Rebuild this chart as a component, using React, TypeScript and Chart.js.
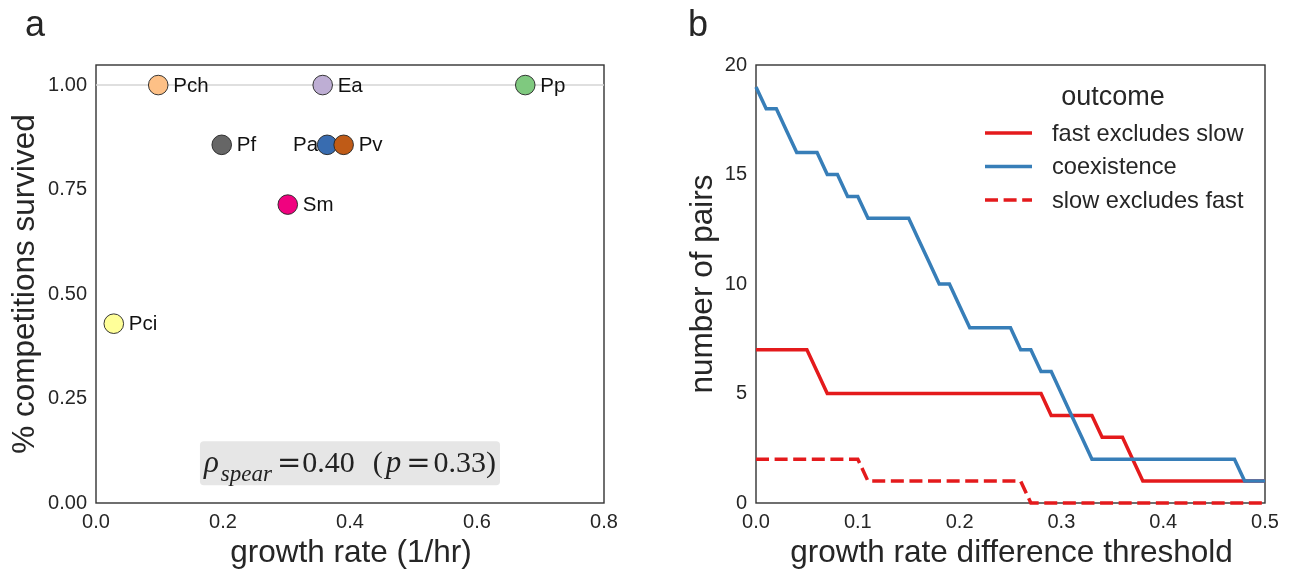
import React, { useEffect, useRef } from 'react';
import { Chart, registerables } from 'chart.js';

Chart.register(...registerables);

// ---------- Panel a data ----------
const strains = ['Pch', 'Ea', 'Pp', 'Pf', 'Pa', 'Pv', 'Sm', 'Pci'];
const growthRate = [0.098, 0.357, 0.676, 0.198, 0.364, 0.39, 0.302, 0.028];
const survived = [1.0, 1.0, 1.0, 0.857, 0.857, 0.857, 0.714, 0.429];
const strainColors = ['#fdc086', '#beaed4', '#7fc97f', '#666666', '#386cb0', '#bf5b17', '#f0027f', '#ffff99'];
const labelSide = ['right', 'right', 'right', 'right', 'left', 'right', 'right', 'right'];
const aXTicks = [0, 0.2, 0.4, 0.6, 0.8];
const aYTicks = [0, 0.25, 0.5, 0.75, 1.0];
const refLineY = 1.0;
const annotationText = { rho: '0.40', p: '0.33' };

// ---------- Panel b data ----------
const thresholds = [
  0.0, 0.01, 0.02, 0.03, 0.04, 0.05, 0.06, 0.07, 0.08, 0.09,
  0.1, 0.11, 0.12, 0.13, 0.14, 0.15, 0.16, 0.17, 0.18, 0.19,
  0.2, 0.21, 0.22, 0.23, 0.24, 0.25, 0.26, 0.27, 0.28, 0.29,
  0.3, 0.31, 0.32, 0.33, 0.34, 0.35, 0.36, 0.37, 0.38, 0.39,
  0.4, 0.41, 0.42, 0.43, 0.44, 0.45, 0.46, 0.47, 0.48, 0.49, 0.5,
];
const fastExcludesSlow = [
  7, 7, 7, 7, 7, 7, 6, 5, 5, 5,
  5, 5, 5, 5, 5, 5, 5, 5, 5, 5,
  5, 5, 5, 5, 5, 5, 5, 5, 5, 4,
  4, 4, 4, 4, 3, 3, 3, 2, 1, 1,
  1, 1, 1, 1, 1, 1, 1, 1, 1, 1, 1,
];
const coexistence = [
  19, 18, 18, 17, 16, 16, 16, 15, 15, 14,
  14, 13, 13, 13, 13, 13, 12, 11, 10, 10,
  9, 8, 8, 8, 8, 8, 7, 7, 6, 6,
  5, 4, 3, 2, 2, 2, 2, 2, 2, 2,
  2, 2, 2, 2, 2, 2, 2, 2, 1, 1, 1,
];
const slowExcludesFast = [
  2, 2, 2, 2, 2, 2, 2, 2, 2, 2,
  2, 1, 1, 1, 1, 1, 1, 1, 1, 1,
  1, 1, 1, 1, 1, 1, 1, 0, 0, 0,
  0, 0, 0, 0, 0, 0, 0, 0, 0, 0,
  0, 0, 0, 0, 0, 0, 0, 0, 0, 0, 0,
];
const bXTicks = [0, 0.1, 0.2, 0.3, 0.4, 0.5];
const bYTicks = [0, 5, 10, 15, 20];

// ---------- Styles ----------
const SANS = '"Liberation Sans", Arial, sans-serif';
const SERIF = '"Liberation Serif", "DejaVu Serif", serif';
const TEXT = '#262626';
const FRAME = '#333333';
const RED = '#e41a1c';
const BLUE = '#377eb8';
const LW = 3.5;
const DASH = [13, 5.6];

function drawFrame(chart: any) {
  const { ctx, chartArea: a } = chart;
  ctx.save();
  ctx.strokeStyle = FRAME;
  ctx.lineWidth = 1.4;
  ctx.strokeRect(a.left, a.top, a.right - a.left, a.bottom - a.top);
  ctx.restore();
}

function drawTitles(chart: any, xTitle: string, yTitle: string, yTitleX: number, panel: string, panelX: number) {
  const { ctx, chartArea: a } = chart;
  ctx.save();
  ctx.fillStyle = TEXT;
  ctx.font = `31.5px ${SANS}`;
  ctx.textAlign = 'center';
  ctx.textBaseline = 'middle';
  ctx.fillText(xTitle, (a.left + a.right) / 2 + 1, 553);
  ctx.save();
  ctx.translate(yTitleX, (a.top + a.bottom) / 2);
  ctx.rotate(-Math.PI / 2);
  ctx.fillText(yTitle, 0, 0);
  ctx.restore();
  ctx.font = `36px ${SANS}`;
  ctx.textBaseline = 'alphabetic';
  ctx.fillText(panel, panelX, 36);
  ctx.restore();
}

const panelAPlugin = {
  id: 'panelA',
  beforeDatasetsDraw(chart: any) {
    drawFrame(chart);
  },
  afterDatasetsDraw(chart: any) {
    const { ctx } = chart;
    const xs = chart.scales.x;
    const ys = chart.scales.y;
    ctx.save();
    ctx.fillStyle = '#111111';
    ctx.font = `20.5px ${SANS}`;
    ctx.textBaseline = 'middle';
    strains.forEach((name, i) => {
      const px = xs.getPixelForValue(growthRate[i]);
      const py = ys.getPixelForValue(survived[i]);
      if (labelSide[i] === 'left') {
        ctx.textAlign = 'right';
        ctx.fillText(name, px - 9, py + 1);
      } else {
        ctx.textAlign = 'left';
        ctx.fillText(name, px + 15, py + 1);
      }
    });
    ctx.restore();

    // annotation box
    const cx = xs.getPixelForValue(0.4);
    const cy = ys.getPixelForValue(0.095);
    const big = `30px ${SERIF}`;
    const bigI = `italic 31px ${SERIF}`;
    const eq = `29px "DejaVu Serif", serif`;
    const sub = `italic 23px ${SERIF}`;
    const segs = [
      { t: 'ρ', f: bigI, dy: 0, gap: 2 },
      { t: 'spear', f: sub, dy: 9, gap: 5 },
      { t: '=', f: eq, dy: 0, gap: 1 },
      { t: annotationText.rho, f: big, dy: 0, gap: 18 },
      { t: '(', f: big, dy: 0, gap: 3 },
      { t: 'p', f: bigI, dy: 0, gap: 5 },
      { t: '=', f: eq, dy: 0, gap: 3 },
      { t: annotationText.p, f: big, dy: 0, gap: 0 },
      { t: ')', f: big, dy: 0, gap: 0 },
    ];
    ctx.save();
    let W = 0;
    const widths = segs.map((s) => {
      ctx.font = s.f;
      const w = ctx.measureText(s.t).width;
      W += w + s.gap;
      return w;
    });
    const boxW = W + 8;
    const boxH = 44;
    ctx.fillStyle = '#e6e6e6';
    ctx.beginPath();
    (ctx as any).roundRect(cx - boxW / 2, cy - boxH / 2, boxW, boxH, 4);
    ctx.fill();
    ctx.fillStyle = '#222222';
    ctx.textAlign = 'left';
    ctx.textBaseline = 'alphabetic';
    let x = cx - W / 2;
    const base = cy + 9;
    segs.forEach((s, i) => {
      ctx.font = s.f;
      ctx.fillText(s.t, x, base + s.dy);
      x += widths[i] + s.gap;
    });
    ctx.restore();
  },
  afterDraw(chart: any) {
    drawTitles(chart, 'growth rate (1/hr)', '% competitions survived', 25, 'a', 35);
  },
};

const legendItems = [
  { label: 'fast excludes slow', color: RED, dash: [] as number[] },
  { label: 'coexistence', color: BLUE, dash: [] as number[] },
  { label: 'slow excludes fast', color: RED, dash: DASH },
];

const panelBPlugin = {
  id: 'panelB',
  beforeDatasetsDraw(chart: any) {
    drawFrame(chart);
  },
  afterDraw(chart: any) {
    drawTitles(chart, 'growth rate difference threshold', 'number of pairs', 53, 'b', 48);
    const { ctx, chartArea: a } = chart;
    ctx.save();
    ctx.fillStyle = TEXT;
    ctx.font = `27px ${SANS}`;
    ctx.textAlign = 'center';
    ctx.textBaseline = 'middle';
    ctx.fillText('outcome', a.left + 357, 98);
    ctx.font = `23.6px ${SANS}`;
    ctx.textAlign = 'left';
    legendItems.forEach((it, i) => {
      const y = 133 + i * 33.5;
      ctx.strokeStyle = it.color;
      ctx.lineWidth = LW;
      ctx.setLineDash(it.dash);
      ctx.beginPath();
      ctx.moveTo(a.left + 229, y);
      ctx.lineTo(a.left + 276, y);
      ctx.stroke();
      ctx.setLineDash([]);
      ctx.fillText(it.label, a.left + 296, y + 1);
    });
    ctx.restore();
  },
};

function tickFont() {
  return { family: SANS, size: 20 };
}

export default function App() {
  const refA = useRef<HTMLCanvasElement>(null);
  const refB = useRef<HTMLCanvasElement>(null);

  useEffect(() => {
    const chartA = new Chart(refA.current as HTMLCanvasElement, {
      type: 'scatter',
      data: {
        datasets: [
          {
            type: 'scatter',
            label: 'strains',
            data: strains.map((_, i) => ({ x: growthRate[i], y: survived[i] })),
            pointBackgroundColor: strainColors,
            pointBorderColor: '#222222',
            pointBorderWidth: 0.9,
            pointRadius: 9.8,
            clip: false,
            order: 0,
          } as any,
          {
            type: 'line',
            label: 'ref',
            data: [
              { x: aXTicks[0], y: refLineY },
              { x: aXTicks[aXTicks.length - 1], y: refLineY },
            ],
            borderColor: '#d4d4d4',
            borderWidth: 1.5,
            pointRadius: 0,
            order: 1,
          } as any,
        ],
      },
      options: {
        animation: false,
        responsive: false,
        layout: { padding: { left: 0, top: 65, right: 46, bottom: 0 } },
        plugins: { legend: { display: false }, tooltip: { enabled: false } },
        scales: {
          x: {
            type: 'linear',
            min: 0,
            max: 0.8,
            grid: { display: false, drawTicks: false },
            border: { display: false },
            afterBuildTicks: (s: any) => {
              s.ticks = aXTicks.map((v) => ({ value: v }));
            },
            afterFit: (s: any) => {
              s.height = 69;
            },
            ticks: {
              color: TEXT,
              font: tickFont(),
              padding: 7,
              callback: (v: any) => Number(v).toFixed(1),
            },
          },
          y: {
            type: 'linear',
            min: 0,
            max: 1.048,
            grid: { display: false, drawTicks: false },
            border: { display: false },
            afterBuildTicks: (s: any) => {
              s.ticks = aYTicks.map((v) => ({ value: v }));
            },
            afterFit: (s: any) => {
              s.width = 96;
            },
            ticks: {
              color: TEXT,
              font: tickFont(),
              padding: 9,
              callback: (v: any) => Number(v).toFixed(2),
            },
          },
        },
      },
      plugins: [panelAPlugin],
    } as any);

    const chartB = new Chart(refB.current as HTMLCanvasElement, {
      type: 'line',
      data: {
        datasets: [
          {
            label: 'fast excludes slow',
            data: thresholds.map((t, i) => ({ x: t, y: fastExcludesSlow[i] })),
            borderColor: RED,
            borderWidth: LW,
            pointRadius: 0,
            tension: 0,
            clip: false,
            order: 2,
          },
          {
            label: 'coexistence',
            data: thresholds.map((t, i) => ({ x: t, y: coexistence[i] })),
            borderColor: BLUE,
            borderWidth: LW,
            pointRadius: 0,
            tension: 0,
            clip: false,
            order: 1,
          },
          {
            label: 'slow excludes fast',
            data: thresholds.map((t, i) => ({ x: t, y: slowExcludesFast[i] })),
            borderColor: RED,
            borderWidth: LW,
            borderDash: DASH,
            pointRadius: 0,
            tension: 0,
            clip: false,
            order: 3,
          },
        ],
      },
      options: {
        animation: false,
        responsive: false,
        layout: { padding: { left: 0, top: 65, right: 25, bottom: 0 } },
        plugins: { legend: { display: false }, tooltip: { enabled: false } },
        scales: {
          x: {
            type: 'linear',
            min: 0,
            max: 0.5,
            grid: { display: false, drawTicks: false },
            border: { display: false },
            afterBuildTicks: (s: any) => {
              s.ticks = bXTicks.map((v) => ({ value: v }));
            },
            afterFit: (s: any) => {
              s.height = 69;
            },
            ticks: {
              color: TEXT,
              font: tickFont(),
              padding: 7,
              callback: (v: any) => Number(v).toFixed(1),
            },
          },
          y: {
            type: 'linear',
            min: 0,
            max: 20,
            grid: { display: false, drawTicks: false },
            border: { display: false },
            afterBuildTicks: (s: any) => {
              s.ticks = bYTicks.map((v) => ({ value: v }));
            },
            afterFit: (s: any) => {
              s.width = 106;
            },
            ticks: {
              color: TEXT,
              font: tickFont(),
              padding: 9,
              callback: (v: any) => String(v),
            },
          },
        },
      },
      plugins: [panelBPlugin],
    } as any);

    return () => {
      chartA.destroy();
      chartB.destroy();
    };
  }, []);

  return (
    <div style={{ position: 'absolute', left: 0, top: 0, width: 1290, height: 572, background: '#ffffff' }}>
      <canvas
        ref={refA}
        width={650}
        height={572}
        style={{ position: 'absolute', left: 0, top: 0, width: 650, height: 572 }}
      />
      <canvas
        ref={refB}
        width={640}
        height={572}
        style={{ position: 'absolute', left: 650, top: 0, width: 640, height: 572 }}
      />
    </div>
  );
}
